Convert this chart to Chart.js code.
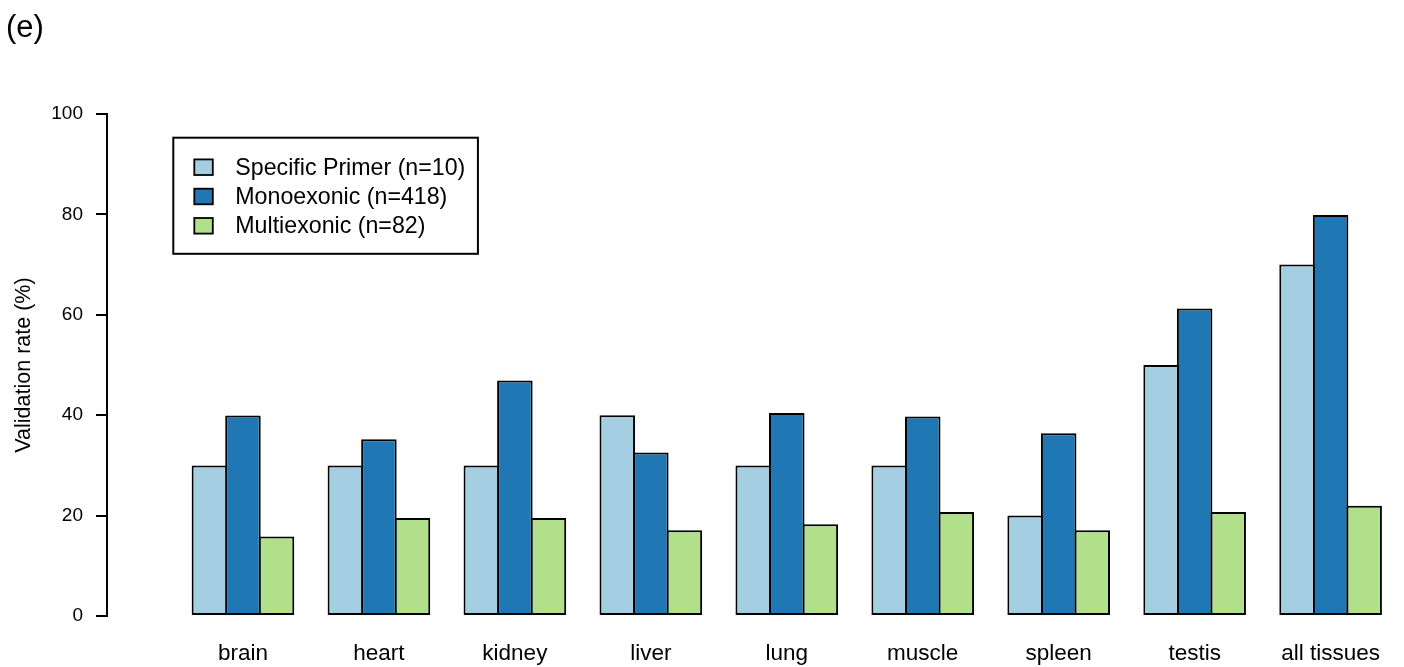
<!DOCTYPE html>
<html>
<head>
<meta charset="utf-8">
<script src="https://cdn.jsdelivr.net/npm/chart.js@4"></script>
<style>
html,body{margin:0;padding:0;background:#fff;}
canvas{display:block;}
</style>
</head>
<body>
<canvas id="c" width="1404" height="667"></canvas>
<script>
const categories = ['brain','heart','kidney','liver','lung','muscle','spleen','testis','all tissues'];
const specificPrimer = [30, 30, 30, 40, 30, 30, 20, 50, 70];
const monoexonic = [39.95, 35.2, 46.9, 32.55, 40.45, 39.75, 36.4, 61.25, 79.9];
const multiexonic = [15.85, 19.5, 19.5, 17.07, 18.29, 20.73, 17.07, 20.73, 21.95];
const seriesNames = ['Specific Primer (n=10)', 'Monoexonic (n=418)', 'Multiexonic (n=82)'];
const seriesColors = ['#A6CEE3', '#1F78B4', '#B2DF8A'];
const yTicks = [0, 20, 40, 60, 80, 100];

const FONT = '"Liberation Sans", Arial, Helvetica, sans-serif';
// leading blank slot keeps the y axis to the left of the first group
const labels = [''].concat(categories);
const pad = arr => [null].concat(arr);

const boxLegend = {
  id: 'boxLegend',
  afterDraw(chart) {
    const ctx = chart.ctx;
    const area = chart.chartArea;
    const left = area.left + 66.3;
    const top = area.top + 23.7;
    ctx.save();
    ctx.font = '23.2px ' + FONT;
    let maxW = 0;
    chart.data.datasets.forEach(ds => { maxW = Math.max(maxW, ctx.measureText(ds.label).width); });
    const pitch = 29.3;
    const n = chart.data.datasets.length;
    const width = 62 + maxW + 12.6;
    const height = 29.5 + pitch * (n - 1) + 28;
    ctx.lineWidth = 2;
    ctx.strokeStyle = '#000';
    ctx.strokeRect(left, top, width, height);
    ctx.textBaseline = 'middle';
    ctx.textAlign = 'left';
    chart.data.datasets.forEach((ds, i) => {
      const cy = top + 29.5 + i * pitch;
      ctx.fillStyle = ds.backgroundColor;
      ctx.fillRect(left + 21, cy - 7.8, 18.5, 15.6);
      ctx.lineWidth = 1.8;
      ctx.strokeRect(left + 21, cy - 7.8, 18.5, 15.6);
      ctx.fillStyle = '#000';
      ctx.fillText(ds.label, left + 62, cy + 1);
    });
    ctx.restore();
  }
};

const makeDs = (name, color, values) => ({
  label: name,
  data: pad(values),
  backgroundColor: color,
  borderColor: '#000',
  borderWidth: 2,
  borderSkipped: false,
  categoryPercentage: 0.7403,
  barPercentage: 1.059,
  clip: false
});

new Chart(document.getElementById('c'), {
  type: 'bar',
  data: {
    labels: labels,
    datasets: [
      makeDs(seriesNames[0], seriesColors[0], specificPrimer),
      makeDs(seriesNames[1], seriesColors[1], monoexonic),
      makeDs(seriesNames[2], seriesColors[2], multiexonic)
    ]
  },
  options: {
    responsive: false,
    animation: false,
    devicePixelRatio: 1,
    layout: { padding: { left: 6, right: 60.5, top: 0, bottom: 0 } },
    plugins: {
      legend: { display: false },
      tooltip: { enabled: false },
      title: {
        display: true,
        text: '(e)',
        align: 'start',
        color: '#000',
        font: { family: FONT, size: 31, weight: 'normal' },
        padding: { top: 10, bottom: 66.8 }
      }
    },
    scales: {
      x: {
        offset: false,
        afterFit(scale) { scale.height = 51; },
        grid: { display: false, drawTicks: false },
        border: { display: false },
        ticks: {
          autoSkip: false,
          maxRotation: 0,
          minRotation: 0,
          padding: 24,
          color: '#000',
          font: { family: FONT, size: 22.5 }
        }
      },
      y: {
        min: 0,
        max: 100,
        afterFit(scale) { scale.width = 101; },
        afterBuildTicks(scale) { scale.ticks = yTicks.map(v => ({ value: v })); },
        grid: { drawOnChartArea: false, drawTicks: true, tickLength: 11, color: '#000', lineWidth: 2 },
        border: { display: true, color: '#000', width: 2 },
        ticks: {
          padding: 13,
          color: '#000',
          font: { family: FONT, size: 19 }
        },
        title: {
          display: true,
          text: 'Validation rate (%)',
          color: '#000',
          font: { family: FONT, size: 21.5 },
          padding: { top: 5, bottom: 0 }
        }
      }
    }
  },
  plugins: [boxLegend]
});
</script>
</body>
</html>
